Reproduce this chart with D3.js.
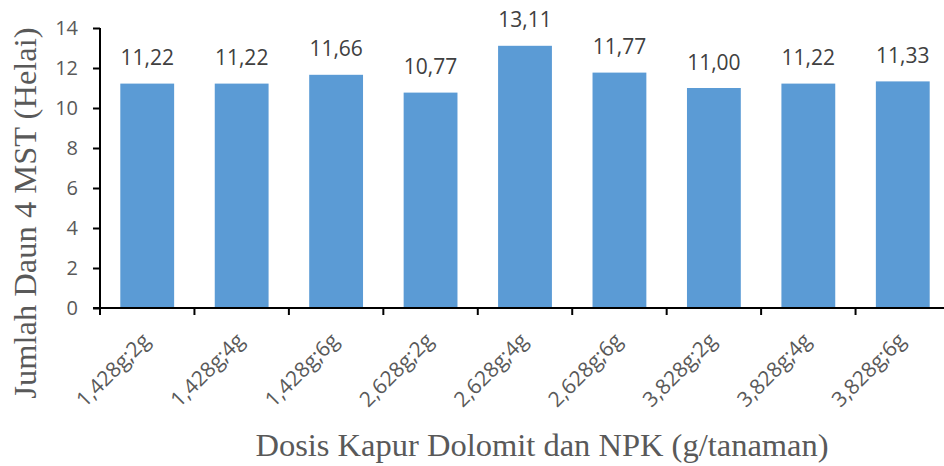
<!DOCTYPE html>
<html>
<head>
<meta charset="utf-8">
<script src="https://cdn.jsdelivr.net/npm/d3@7"></script>
<style>
  body { margin: 0; background: #fff; }
  svg { display: block; }
</style>
</head>
<body>
<svg id="chart" width="944" height="466"></svg>
<script>
const categories = ["1,428g;2g", "1,428g;4g", "1,428g;6g", "2,628g;2g", "2,628g;4g",
  "2,628g;6g", "3,828g;2g", "3,828g;4g", "3,828g;6g"];
const values = [11.22, 11.22, 11.66, 10.77, 13.11, 11.77, 11.00, 11.22, 11.33];
const valueLabels = ["11,22", "11,22", "11,66", "10,77", "13,11", "11,77", "11,00", "11,22", "11,33"];
const yTicks = [0, 2, 4, 6, 8, 10, 12, 14];

const svg = d3.select("#chart");
const plotL = 100, plotR = 950, plotT = 28, plotB = 308;
const grey = "#595959";

const x = d3.scaleBand().domain(categories).range([plotL, plotR])
  .paddingInner(0.43).paddingOuter(0.215);
const y = d3.scaleLinear().domain([0, 14]).range([plotB, plotT]);

// bars
svg.append("g").selectAll("rect")
  .data(values)
  .join("rect")
  .attr("x", (d, i) => x(categories[i]))
  .attr("y", d => y(d))
  .attr("width", x.bandwidth())
  .attr("height", d => y(0) - y(d))
  .attr("fill", "#5B9BD5");

// value labels
svg.append("g").selectAll("text")
  .data(values)
  .join("text")
  .attr("x", (d, i) => x(categories[i]) + x.bandwidth() / 2)
  .attr("y", d => y(d) - 18.5)
  .attr("text-anchor", "middle")
  .attr("font-family", "Open Sans")
  .attr("font-size", 21)
  .attr("fill", "#404040")
  .text((d, i) => valueLabels[i]);

// y axis
const yAxis = svg.append("g")
  .attr("transform", `translate(${plotL},0)`)
  .call(d3.axisLeft(y).tickValues(yTicks).tickSize(7).tickPadding(15));
yAxis.select(".domain").attr("stroke", "#000").attr("stroke-width", 2)
  .attr("d", `M0,${plotT}V${plotB}`);
yAxis.selectAll(".tick line").attr("stroke", "#000").attr("stroke-width", 2);
yAxis.selectAll(".tick text")
  .attr("font-family", "Open Sans").attr("font-size", 20).attr("fill", grey);

// x axis: ticks at band boundaries
const xAxis = svg.append("g").attr("transform", `translate(0,${plotB})`);
xAxis.append("line")
  .attr("x1", plotL - 7).attr("x2", plotR)
  .attr("stroke", "#000").attr("stroke-width", 2);
const bounds = d3.range(categories.length + 1).map(i => plotL + i * x.step());
xAxis.selectAll(".tk")
  .data(bounds)
  .join("line")
  .attr("x1", d => d).attr("x2", d => d)
  .attr("y1", 0).attr("y2", 7)
  .attr("stroke", "#000").attr("stroke-width", 2);
xAxis.selectAll(".lbl")
  .data(categories)
  .join("text")
  .attr("transform", d => `translate(${x(d) + x.bandwidth() / 2 + 4},${34}) rotate(-45)`)
  .attr("text-anchor", "end")
  .attr("font-family", "Open Sans")
  .attr("font-size", 21)
  .attr("fill", grey)
  .text(d => d);

// axis titles
svg.append("text")
  .attr("transform", `translate(36,213) rotate(-90)`)
  .attr("text-anchor", "middle")
  .attr("font-family", "Liberation Serif")
  .attr("font-size", 32.5)
  .attr("fill", grey)
  .text("Jumlah Daun 4 MST (Helai)");

svg.append("text")
  .attr("x", 542)
  .attr("y", 456)
  .attr("text-anchor", "middle")
  .attr("font-family", "Liberation Serif")
  .attr("font-size", 32.5)
  .attr("fill", grey)
  .text("Dosis Kapur Dolomit dan NPK (g/tanaman)");
</script>
</body>
</html>
